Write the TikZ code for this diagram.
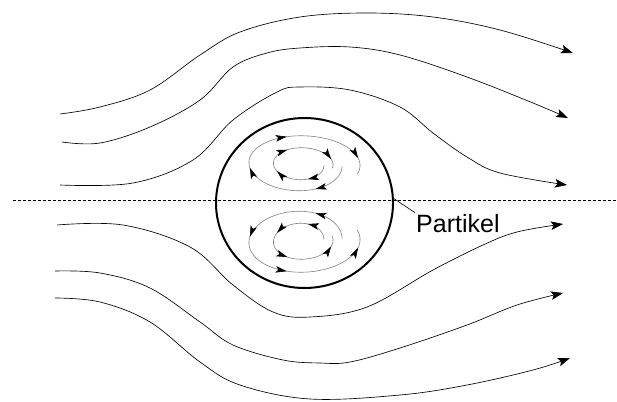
\documentclass[tikz,border=0pt]{standalone}
\usepackage{fontspec}
\setmainfont{Liberation Sans}
\usepackage{tikz}
\usetikzlibrary{arrows.meta}

\tikzset{
  stream/.style={line width=.65pt, -{Stealth[length=12pt,width=8.5pt,inset=2.5pt]}},
  eddy/.style={gray, line width=.6pt},
  eddytip/.style={-{Stealth[black,length=11pt,width=6.5pt,inset=2.5pt]}},
  particle/.style={line width=2pt},
  symline/.style={dash pattern=on 3pt off 2pt, line width=.6pt}
}

\begin{document}
\begin{tikzpicture}[x=1pt,y=-1pt]
\useasboundingbox (0,0) rectangle (617,401);

% symmetry line and particle
\draw[symline] (13,200) -- (617,200);
\draw[particle] (304.5,203) ellipse [x radius=88.5, y radius=85];
\coordinate (rim) at (393,198);
\node[anchor=base west, inner sep=1pt, font=\fontsize{25}{30}\selectfont] (lbl) at (415,232) {Partikel};
\draw[line width=.6pt] (rim) -- (lbl.north west);

% streamlines above
\draw[stream] plot[smooth, tension=.6] coordinates {(60,114) (100,107) (150,90) (200,55) (240,32) (300,17) (367,13) (433,17) (500,30) (573,53)};
\draw[stream] plot[smooth, tension=.6] coordinates {(62,142) (100,143) (150,127) (200,100) (233,67) (267,53) (300,48) (350,47) (400,55) (467,77) (533,103) (568,118)};
\draw[stream] plot[smooth, tension=.6] coordinates {(60,185) (133,183) (193,160) (233,120) (277,92) (300,87) (350,90) (400,107) (433,133) (467,157) (500,173) (567,185)};

% streamlines below
\draw[stream] plot[smooth, tension=.6] coordinates {(57,225) (123,225) (190,247) (233,285) (273,312) (310,317) (367,307) (433,270) (483,245) (517,232) (563,224)};
\draw[stream] plot[smooth, tension=.6] coordinates {(55,271) (100,273) (150,288) (200,322) (233,345) (283,360) (320,363) (350,362) (400,348) (467,325) (517,305) (563,293)};
\draw[stream] plot[smooth, tension=.6] coordinates {(55,298) (100,302) (150,322) (200,362) (240,385) (310,399) (400,395) (467,385) (533,370) (570,358)};

% vortices inside the particle
\foreach \s/\cy/\bo/\bi in {1/164/26/15.5, -1/241/29/17.5} {
  \draw[eddy] plot[domain=5:380, samples=80] ({300+(42+18*\x/360)*cos(\x)}, {\cy+\s*(\bo+3*\x/360)*sin(\x)});
  \foreach \t [evaluate=\t as \u using \t-3] in {70,172,256,348}
    \draw[eddy, eddytip] plot[domain=\u:\t, samples=2] ({300+(42+18*\x/360)*cos(\x)}, {\cy+\s*(\bo+3*\x/360)*sin(\x)});
  \draw[eddy] plot[domain=5:375, samples=80] ({301+(23+9*\x/360)*cos(\x)}, {\cy+\s*(\bi+1*\x/360)*sin(\x)});
  \foreach \t [evaluate=\t as \u using \t-3] in {74,153,242,343}
    \draw[eddy, eddytip] plot[domain=\u:\t, samples=2] ({301+(23+9*\x/360)*cos(\x)}, {\cy+\s*(\bi+1*\x/360)*sin(\x)});
}
\end{tikzpicture}
\end{document}
